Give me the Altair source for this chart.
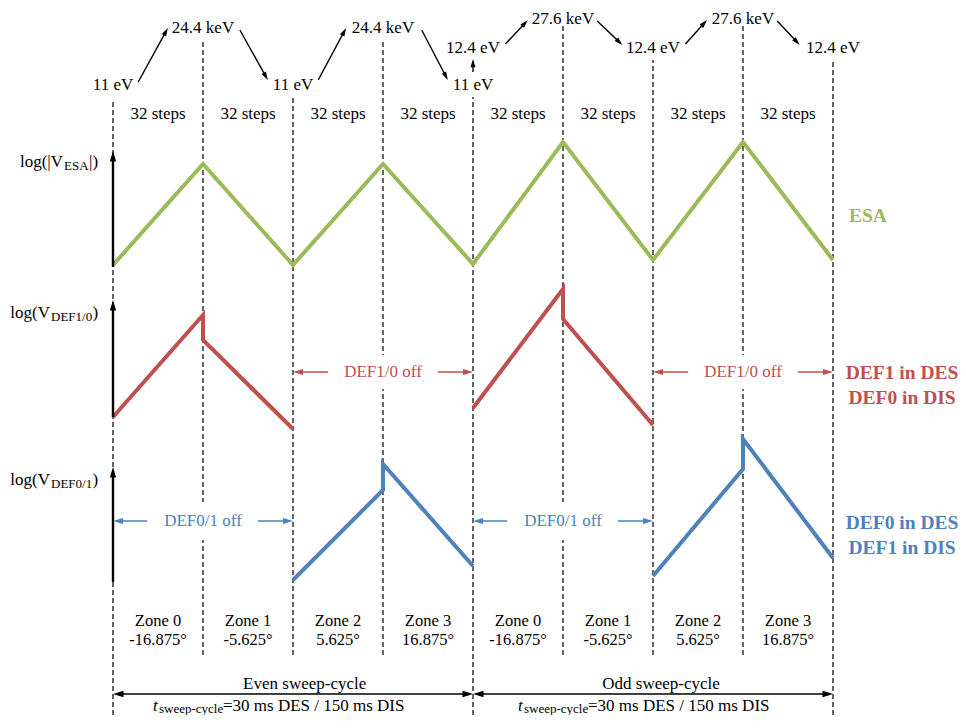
import math
import altair as alt
import pandas as pd

# ------------------------------------------------------------------ data
ESA_C, DEF10_C, DEF01_C = "#9BBB59", "#C0504D", "#4F81BD"

boundary_t = [0, 1, 2, 3, 4, 5, 6, 7, 8]
boundary_top = [620, 678, 623, 678, 623, 695, 660, 695, 660]
boundary_bottom = [5, 65, 65, 65, 5, 65, 65, 65, 5]

esa_t = [0, 1, 2, 3, 4, 5, 6, 7, 8]
esa_level = [455, 556, 455, 556, 456, 578, 460, 578, 460]

def10_t = [0, 1, 1, 2, 4, 5, 5, 6]
def10_level = [303, 405, 380, 291, 312, 431, 401, 295]
def10_seg = [0, 0, 0, 0, 1, 1, 1, 1]

def01_t = [2, 3, 3, 4, 6, 7, 7, 8]
def01_level = [140, 230, 256, 154, 144, 251, 281, 162]
def01_seg = [0, 0, 0, 0, 1, 1, 1, 1]

energy_labels = ["11 eV", "24.4 keV", "11 eV", "24.4 keV", "11 eV",
                 "12.4 eV", "27.6 keV", "12.4 eV", "27.6 keV", "12.4 eV"]
energy_t = [0, 1, 2, 3, 4, 4, 5, 6, 7, 8]
energy_level = [635, 692, 635, 692, 635, 672, 701, 672, 701, 672]

energy_arrow_x = [0.28, 1.41, 2.28, 3.43, 4.0, 4.36, 5.38, 6.36, 7.38]
energy_arrow_y = [638, 690, 640, 690, 648, 676, 699, 676, 699]
energy_arrow_x2 = [0.61, 1.72, 2.59, 3.72, 4.0, 4.61, 5.66, 6.60, 7.63]
energy_arrow_y2 = [692, 640, 692, 640, 661, 700, 675, 700, 675]

step_labels = ["32 steps"] * 8
mid_t = [0.5, 1.5, 2.5, 3.5, 4.5, 5.5, 6.5, 7.5]
zone_labels = ["Zone 0", "Zone 1", "Zone 2", "Zone 3"] * 2
zone_angles = ["-16.875°", "-5.625°", "5.625°", "16.875°"] * 2
step_level, zone_level, angle_level = 606, 99, 80

axis_arrow_y = [453, 303, 138]
axis_arrow_y2 = [569, 420, 253]

off10_from = [2.39, 3.61, 6.39, 7.61]
off10_to = [2, 4, 6, 8]
off10_level = 348
off01_from = [0.38, 1.61, 4.38, 5.61]
off01_to = [0, 2, 4, 6]
off01_level = 199
off10_text_t = [3, 7]
off01_text_t = [1, 5]

sweep_from = [2, 2, 6, 6]
sweep_to = [0, 4, 4, 8]
sweep_level = 26

left_main = ["log(|V", "log(V", "log(V"]
left_sub = ["ESA", "DEF1/0", "DEF0/1"]
left_anchor_t = [-0.5556, -0.70, -0.70]
left_level = [558, 407, 240]

right_labels = ["DEF1 in DES", "DEF0 in DIS", "DEF0 in DES", "DEF1 in DIS"]
right_colors = [DEF10_C, DEF10_C, DEF01_C, DEF01_C]
right_level = [347, 322, 197, 172]

cycle_labels = ["Even sweep-cycle", "Odd sweep-cycle"]
cycle_label_t = [2.13, 6.09]
cycle_level = 36
formula_t = [0.444, 4.5]
formula_level = 14

# ------------------------------------------------------------------ scales
W, H = 950, 707
XMIN = -105 / 90
XMAX = XMIN + W / 90
YMIN, YMAX = 5, 712
PX_X = W / (XMAX - XMIN)
PX_Y = H / (YMAX - YMIN)
xs = alt.Scale(domain=[XMIN, XMAX], nice=False, zero=False)
ys = alt.Scale(domain=[YMIN, YMAX], nice=False, zero=False)
FONT = "Liberation Serif, Times New Roman, Tinos, DejaVu Serif, serif"
HEAD = "M0,0L-0.6,2L0.6,2Z"


def X(f="x"):
    return alt.X(f"{f}:Q", scale=xs, axis=None)


def Y(f="y"):
    return alt.Y(f"{f}:Q", scale=ys, axis=None)


# ------------------------------------------------------------------ arrows
arrows = []


def add_arrow(x, y, x2, y2, color, width, size):
    dx = (x2 - x) * PX_X
    dy = (y2 - y) * PX_Y
    L = math.hypot(dx, dy)
    back = 0.6 * math.sqrt(size)
    f = max(L - back, 0) / L
    arrows.append(dict(x=x, y=y, xe=x + (x2 - x) * f, ye=y + (y2 - y) * f,
                       hx=x2, hy=y2,
                       angle=math.degrees(math.atan2(dx, dy)) % 360,
                       color=color, w=width, size=size))


for a, b, c, d in zip(energy_arrow_x, energy_arrow_y, energy_arrow_x2, energy_arrow_y2):
    add_arrow(a, b, c, d, "black", 1.4, 70)
for a, b in zip(axis_arrow_y, axis_arrow_y2):
    add_arrow(0, a, 0, b, "black", 2.4, 110)
for a, b in zip(off10_from, off10_to):
    add_arrow(a, off10_level, b, off10_level, DEF10_C, 1.5, 100)
for a, b in zip(off01_from, off01_to):
    add_arrow(a, off01_level, b, off01_level, DEF01_C, 1.5, 100)
for a, b in zip(sweep_from, sweep_to):
    add_arrow(a, sweep_level, b, sweep_level, "black", 1.5, 110)
arrow_df = pd.DataFrame(arrows)

arrow_lines = alt.Chart(arrow_df).mark_rule().encode(
    x=X(), y=Y(), x2="xe:Q", y2="ye:Q",
    color=alt.Color("color:N", scale=None),
    strokeWidth=alt.StrokeWidth("w:Q", scale=None),
)
arrow_heads = alt.Chart(arrow_df).mark_point(
    shape=HEAD, filled=True, opacity=1, strokeWidth=0
).encode(
    x=X("hx"), y=Y("hy"),
    angle=alt.Angle("angle:Q", scale=None),
    size=alt.Size("size:Q", scale=None),
    color=alt.Color("color:N", scale=None),
)

# ------------------------------------------------------------------ boundaries
bdf = pd.DataFrame(dict(x=boundary_t, y=boundary_bottom, y2=boundary_top))
boundaries = alt.Chart(bdf).mark_rule(
    color="black", strokeWidth=1.2, strokeDash=[5, 3]
).encode(x=X(), y=Y(), y2="y2:Q")

mask_rows = []
for t in off10_text_t:
    mask_rows.append(dict(x=t - 0.12, x2=t + 0.12, y=off10_level - 17, y2=off10_level + 17))
for t in off01_text_t:
    mask_rows.append(dict(x=t - 0.12, x2=t + 0.12, y=off01_level - 19, y2=off01_level + 19))
masks = alt.Chart(pd.DataFrame(mask_rows)).mark_rect(color="white").encode(
    x=X(), x2="x2:Q", y=Y(), y2="y2:Q"
)

# ------------------------------------------------------------------ signals
sig = []
for i, (t, v) in enumerate(zip(esa_t, esa_level)):
    sig.append(dict(x=t, y=v, key="esa", ord=i, color=ESA_C))
for i, (t, v, s) in enumerate(zip(def10_t, def10_level, def10_seg)):
    sig.append(dict(x=t, y=v, key=f"d10_{s}", ord=i, color=DEF10_C))
for i, (t, v, s) in enumerate(zip(def01_t, def01_level, def01_seg)):
    sig.append(dict(x=t, y=v, key=f"d01_{s}", ord=i, color=DEF01_C))
signals = alt.Chart(pd.DataFrame(sig)).mark_line(
    strokeWidth=4, strokeJoin="miter", strokeCap="butt"
).encode(
    x=X(), y=Y(), detail="key:N", order="ord:Q",
    color=alt.Color("color:N", scale=None),
)


# ------------------------------------------------------------------ texts
def text_layer(rows, **kw):
    props = dict(font=FONT, fontSize=17, baseline="middle", align="center")
    props.update(kw)
    return alt.Chart(pd.DataFrame(rows)).mark_text(**props).encode(
        x=X(), y=Y(), text="text:N",
        color=alt.Color("color:N", scale=None),
    )


plain = []
for s, t, v in zip(energy_labels, energy_t, energy_level):
    plain.append(dict(x=t, y=v, text=s, color="black"))
for s, t in zip(step_labels, mid_t):
    plain.append(dict(x=t, y=step_level, text=s, color="black"))
for s, t in zip(cycle_labels, cycle_label_t):
    plain.append(dict(x=t, y=cycle_level, text=s, color="black"))
for t in off10_text_t:
    plain.append(dict(x=t, y=off10_level, text="DEF1/0 off", color=DEF10_C))
for t in off01_text_t:
    plain.append(dict(x=t, y=off01_level, text="DEF0/1 off", color=DEF01_C))

zones = []
for s, a, t in zip(zone_labels, zone_angles, mid_t):
    zones.append(dict(x=t, y=zone_level, text=s, color="black"))
    zones.append(dict(x=t, y=angle_level, text=a, color="black"))

layers = [
    boundaries, masks, signals, arrow_lines, arrow_heads,
    text_layer(plain),
    text_layer(zones, fontSize=16.5),
    text_layer([dict(x=8.178, y=504, text="ESA", color=ESA_C)],
               fontSize=19.5, fontWeight="bold", align="left"),
    text_layer([dict(x=8.767, y=v, text=s, color=c)
                for s, c, v in zip(right_labels, right_colors, right_level)],
               fontSize=19.5, fontWeight="bold"),
    text_layer([dict(x=t, y=v, text=s, color="black")
                for s, t, v in zip(left_main, left_anchor_t, left_level)],
               align="right"),
    text_layer([dict(x=t, y=v, text=s, color="black")
                for s, t, v in zip(left_sub, left_anchor_t, left_level)],
               align="left", fontSize=13, dx=1, dy=4),
    text_layer([dict(x=left_anchor_t[0], y=left_level[0], text="|)", color="black")],
               align="left", dx=26),
    text_layer([dict(x=t, y=v, text=")", color="black")
                for t, v in zip(left_anchor_t[1:], left_level[1:])],
               align="left", dx=42.5),
    text_layer([dict(x=t, y=formula_level, text="t", color="black") for t in formula_t],
               align="left", fontStyle="italic"),
    text_layer([dict(x=t, y=formula_level, text="sweep-cycle", color="black") for t in formula_t],
               align="left", fontSize=13, dx=6, dy=3),
    text_layer([dict(x=t, y=formula_level, text="=30 ms DES / 150 ms DIS", color="black")
                for t in formula_t],
               align="left", dx=70),
]

chart = alt.layer(*layers).properties(
    width=W, height=H, padding=0,
    autosize=alt.AutoSizeParams(type="none"),
    background="white",
).configure_view(stroke=None)

chart.save("out.html", embed_options={"renderer": "svg", "actions": False})
